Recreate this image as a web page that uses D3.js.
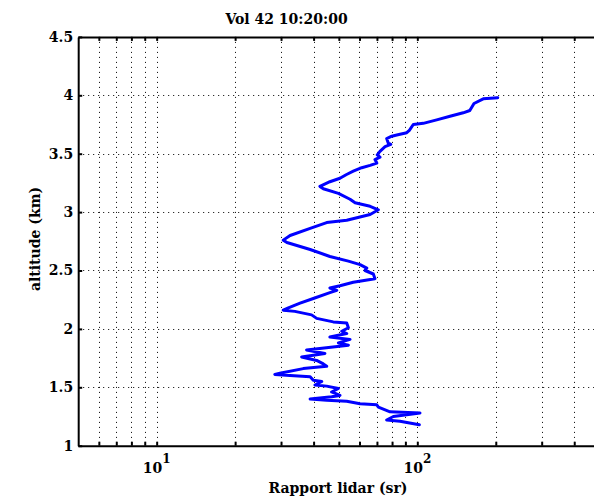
<!DOCTYPE html>
<html><head><meta charset="utf-8">
<script src="https://cdn.jsdelivr.net/npm/d3@7"></script>
<style>body{margin:0;background:#fff}svg{display:block}</style>
</head><body><svg id="c" width="594" height="501"></svg>
<script>
const title = "Vol 42 10:20:00";
const xLabel = "Rapport lidar (sr)";
const yLabel = "altitude (km)";
const altitude = [3.98,3.97,3.93,3.87,3.85,3.82,3.79,3.76,3.75,3.70,3.68,3.66,3.65,3.63,3.59,3.58,3.56,3.52,3.49,3.47,3.45,3.42,3.40,3.38,3.35,3.32,3.29,3.26,3.22,3.20,3.16,3.11,3.08,3.05,3.02,2.98,2.93,2.91,2.86,2.80,2.76,2.74,2.68,2.62,2.58,2.55,2.52,2.50,2.47,2.43,2.40,2.37,2.35,2.33,2.31,2.26,2.22,2.18,2.16,2.15,2.12,2.09,2.06,2.05,2.01,1.98,1.96,1.93,1.91,1.88,1.86,1.82,1.79,1.76,1.73,1.70,1.68,1.66,1.62,1.61,1.60,1.59,1.56,1.55,1.52,1.51,1.49,1.46,1.43,1.42,1.40,1.39,1.38,1.36,1.35,1.33,1.29,1.28,1.25,1.22,1.21,1.18];
const rapport = [203.5,179,165,159,150,133.5,118.7,105.4,96.5,93.2,91.1,83.4,79.8,76.3,77.4,79.1,75.2,71.9,70.2,71.9,68.8,69.9,65.9,61.2,56.8,53.3,50.5,46.2,42.3,43.6,49.8,55.2,57.7,65.9,70.9,65.9,53.6,44.9,38.8,32.5,30.6,31.6,38.8,46.2,54.4,60.3,64.0,63.0,67.8,68.8,56.8,50.5,46.2,49.1,46.2,39.9,35.5,32.0,30.6,33.9,39.3,41.1,47.6,53.6,54.4,51.3,53.6,46.2,55.2,49.8,54.4,37.6,44.2,36.0,41.1,43.6,44.9,36.5,29.7,28.4,32.5,38.8,39.9,43.0,40.5,44.9,49.8,46.9,50.5,46.9,38.8,44.9,53.6,60.3,69.9,70.9,78.6,102.4,80.9,76.3,85.8,101.8];
const xTicks = [6,7,8,9,10,20,30,40,50,60,70,80,90,100,200,300,400];
const xMajor = [10,100];
const xMajorExp = ["1","2"];
const yTicks = [1,1.5,2,2.5,3,3.5,4,4.5];

const svg = d3.select("#c");
const x = d3.scaleLog().domain([5,500]).range([78.2,599.5]);
const y = d3.scaleLinear().domain([1,4.5]).range([445.7,36.9]);
const font = "'DejaVu Serif',serif";
const fs = 14;

// grid
const g = svg.append("g");
g.selectAll(".vg").data(xTicks).enter().append("line")
 .attr("x1",d=>Math.round(x(d))+0.5).attr("x2",d=>Math.round(x(d))+0.5)
 .attr("y1",y(4.5)).attr("y2",y(1))
 .attr("stroke","#000").attr("stroke-width",1).attr("stroke-dasharray","1,4");
g.selectAll(".hg").data(yTicks.slice(1,-1)).enter().append("line")
 .attr("y1",d=>Math.round(y(d))+0.5).attr("y2",d=>Math.round(y(d))+0.5)
 .attr("x1",x(5)).attr("x2",x(500))
 .attr("stroke","#000").attr("stroke-width",1).attr("stroke-dasharray","1,4");

// data line
svg.append("path")
 .datum(altitude.map((a,i)=>[rapport[i],a]))
 .attr("fill","none").attr("stroke","#0000ff").attr("stroke-width",3)
 .attr("stroke-linejoin","round").attr("stroke-linecap","round")
 .attr("d",d3.line().x(d=>x(d[0])).y(d=>y(d[1])));

// axes
function style(sel){
  sel.select(".domain").attr("stroke","#000").attr("stroke-width",2);
  sel.selectAll(".tick line").attr("stroke","#000").attr("stroke-width",2);
}
svg.append("g").attr("transform",`translate(0,${y(1)})`)
 .call(d3.axisBottom(x).tickValues(xTicks).tickSize(-4).tickSizeOuter(0).tickFormat(""))
 .call(style);
svg.append("g").attr("transform",`translate(0,${y(4.5)})`)
 .call(d3.axisTop(x).tickValues(xTicks).tickSize(-4).tickSizeOuter(0).tickFormat(""))
 .call(style);
const ya = svg.append("g").attr("transform",`translate(${x(5)},0)`)
 .call(d3.axisLeft(y).tickValues(yTicks).tickSize(-4).tickSizeOuter(0).tickPadding(5).tickFormat(d=>String(d)))
 .call(style);
ya.selectAll("text").attr("font-family",font).attr("font-size",fs).attr("font-weight","bold").attr("fill","#000");

// x major labels with exponent
const xl = svg.append("g");
xMajor.forEach((v,i)=>{
  const t = xl.append("text").attr("x",x(v)).attr("y",473).attr("text-anchor","middle")
   .attr("font-family",font).attr("font-size",fs).attr("font-weight","bold");
  t.append("tspan").text("10");
  t.append("tspan").attr("dy",-10).attr("font-size",12).text(xMajorExp[i]);
});

svg.append("text").attr("x",286.5).attr("y",24).attr("text-anchor","middle")
 .attr("font-family",font).attr("font-size",fs).attr("font-weight","bold").text(title);
svg.append("text").attr("x",338).attr("y",493).attr("text-anchor","middle")
 .attr("font-family",font).attr("font-size",fs).attr("font-weight","bold").text(xLabel);
svg.append("text").attr("transform","translate(40,239) rotate(-90)").attr("text-anchor","middle")
 .attr("font-family",font).attr("font-size",fs).attr("font-weight","bold").text(yLabel);
</script></body></html>
